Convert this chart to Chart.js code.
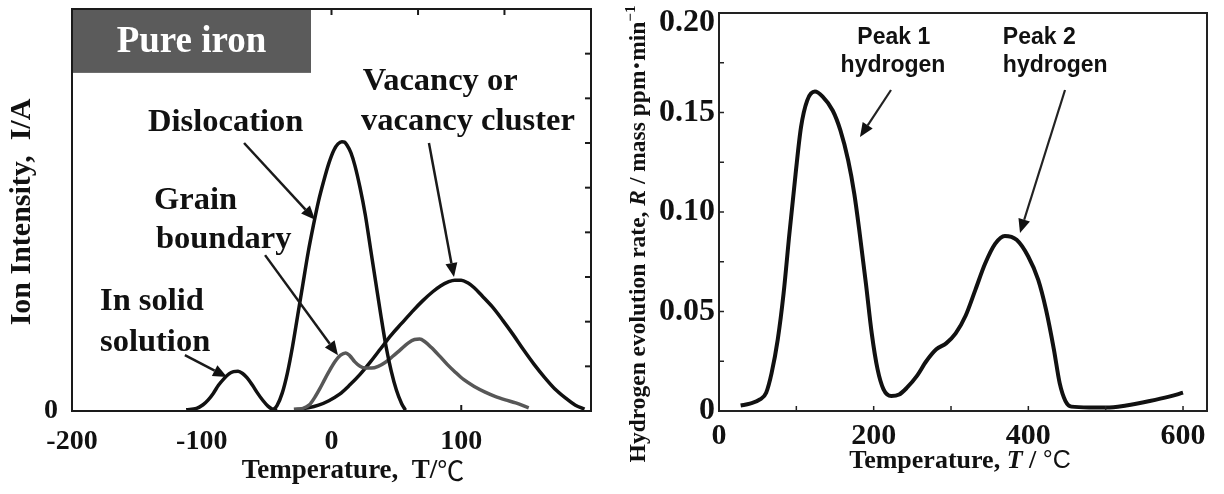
<!DOCTYPE html>
<html>
<head>
<meta charset="utf-8">
<script src="https://cdn.jsdelivr.net/npm/chart.js@4.4.0/dist/chart.umd.min.js"></script>
<style>
  html, body { margin: 0; padding: 0; background: #fff; }
  #wrap { position: relative; width: 1224px; height: 494px; overflow: hidden; }
  #leftBox { position: absolute; left: 0; top: 0; width: 610px; height: 494px; }
  #rightBox { position: absolute; left: 610px; top: 0; width: 614px; height: 494px; }
</style>
</head>
<body>
<div id="wrap">
  <div id="leftBox"><canvas id="ionChart" width="610" height="494"></canvas></div>
  <div id="rightBox"><canvas id="tdsChart" width="614" height="494"></canvas></div>
</div>
<script>
// =============================================
// Left: ion intensity of the trap sites, pure iron
// =============================================
const ionXTicks = [-200, -100, 0, 100];
const ionYTicks = [0];
const ionSideTicks = [1, 2, 3, 4, 5, 6, 7, 8];
const ionTopTicks = [-133.3, -66.7, 0, 66.7, 133.3];
const ionBottomTicks = [100];

const solidT = [-112, -104, -99, -95, -91, -87, -83, -79, -75.5, -72, -68.5, -65, -61, -57, -53, -49, -45.5, -42];
const solidI = [0.03, 0.06, 0.14, 0.25, 0.40, 0.58, 0.72, 0.83, 0.88, 0.89, 0.84, 0.74, 0.58, 0.40, 0.24, 0.11, 0.04, 0.01];

const disloT = [-46, -42, -38, -34, -30, -26, -22, -18, -14, -10, -6, -2, 2, 5, 8, 10, 12, 15, 18, 22, 26, 30, 34, 38, 42, 46, 50, 54, 57];
const disloI = [0.0, 0.12, 0.4, 0.85, 1.45, 2.15, 2.85, 3.55, 4.15, 4.7, 5.15, 5.55, 5.85, 5.98, 6.03, 6.02, 5.95, 5.78, 5.5, 5.0, 4.4, 3.65, 2.9, 2.15, 1.45, 0.9, 0.47, 0.17, 0.02];

const grainT = [-29, -22, -17, -13, -9, -5, -1, 3, 7, 11, 14, 18, 22, 26, 31, 36, 41, 47, 53, 59, 64, 68, 72, 77, 83, 89, 95, 102, 110, 118, 126, 134, 142, 152];
const grainI = [0.04, 0.06, 0.14, 0.3, 0.5, 0.72, 0.93, 1.12, 1.25, 1.3, 1.24, 1.1, 1.0, 0.96, 0.96, 1.0, 1.08, 1.22, 1.37, 1.52, 1.6, 1.61, 1.55, 1.42, 1.24, 1.05, 0.88, 0.7, 0.55, 0.43, 0.33, 0.25, 0.18, 0.07];

const vacT = [-27, -18, -10, -2, 6, 14, 22, 30, 38, 46, 54, 62, 70, 78, 84, 90, 95, 100, 105, 110, 116, 124, 132, 140, 148, 156, 164, 172, 180, 188, 195];
const vacI = [0.03, 0.07, 0.13, 0.23, 0.37, 0.58, 0.82, 1.1, 1.4, 1.7, 1.96, 2.22, 2.46, 2.67, 2.8, 2.89, 2.93, 2.93, 2.87, 2.76, 2.58, 2.33, 2.03, 1.71, 1.37, 1.05, 0.76, 0.5, 0.3, 0.13, 0.04];

// =============================================
// Right: hydrogen evolution rate
// =============================================
const tdsXTicks = [0, 200, 400, 600];
const tdsYTicks = [0, 0.05, 0.10, 0.15, 0.20];
const tdsYLabels = ['0', '0.05', '0.10', '0.15', '0.20'];
const tdsMinorY = [0.025, 0.05, 0.075, 0.1, 0.125, 0.15, 0.175];
const tdsMinorX = [100, 200, 300, 400, 500, 600];

const tdsT = [28, 40, 53, 61, 68, 76, 83.5, 91, 99, 106, 114, 124, 134, 147, 157, 167, 175, 182, 190, 197.5, 205, 212.6, 222.8, 233, 243, 255.7, 268, 281, 293.7, 306, 319, 331.6, 344, 357, 369.6, 384.8, 400, 412.7, 422.8, 433, 440.5, 448, 455.7, 481, 501, 526.6, 557, 582, 600];
const tdsR = [0.0028, 0.0037, 0.0058, 0.0092, 0.019, 0.036, 0.059, 0.089, 0.119, 0.1425, 0.156, 0.1605, 0.158, 0.151, 0.141, 0.126, 0.109, 0.089, 0.064, 0.039, 0.021, 0.011, 0.0075, 0.0083, 0.0117, 0.0175, 0.025, 0.031, 0.034, 0.039, 0.048, 0.061, 0.074, 0.084, 0.088, 0.086, 0.0775, 0.066, 0.051, 0.031, 0.014, 0.005, 0.0022, 0.0018, 0.0017, 0.0028, 0.005, 0.0072, 0.0092];

const SERIF = '"Liberation Serif", "Times New Roman", "DejaVu Serif", serif';
const SANS = '"Liberation Sans", Arial, "DejaVu Sans", sans-serif';

function pts(xs, ys) {
    return xs.map((v, i) => ({ x: v, y: ys[i] }));
}

// keep the chart area where we put it: no extra room for edge labels
function noEdgePad(s) {
    s.paddingTop = 0; s.paddingBottom = 0; s.paddingLeft = 0; s.paddingRight = 0;
}

function drawArrow(ctx, x1, y1, x2, y2) {
    const ang = Math.atan2(y2 - y1, x2 - x1);
    const hl = 14, hw = 6;
    const bx = x2 - hl * Math.cos(ang), by = y2 - hl * Math.sin(ang);
    ctx.beginPath();
    ctx.moveTo(x1, y1);
    ctx.lineTo(bx, by);
    ctx.stroke();
    ctx.beginPath();
    ctx.moveTo(x2, y2);
    ctx.lineTo(bx + hw * Math.sin(ang), by - hw * Math.cos(ang));
    ctx.lineTo(bx - hw * Math.sin(ang), by + hw * Math.cos(ang));
    ctx.closePath();
    ctx.fill();
}

// draw runs of text with different fonts, centred on (cx, cy)
function drawRuns(ctx, runs, cx, cy, rotate) {
    ctx.save();
    ctx.translate(cx, cy);
    if (rotate) ctx.rotate(-Math.PI / 2);
    let total = 0;
    runs.forEach(r => { ctx.font = r.f; total += ctx.measureText(r.t).width; });
    let x = -total / 2;
    ctx.textBaseline = 'middle';
    ctx.textAlign = 'left';
    runs.forEach(r => {
        ctx.font = r.f;
        ctx.fillText(r.t, x, r.dy || 0);
        x += ctx.measureText(r.t).width;
    });
    ctx.restore();
}

// annotation positions, in data units
const ionNotes = [
    ['Vacancy or', 24, 7.37],
    ['vacancy cluster', 22.7, 6.47],
    ['Dislocation', -141.4, 6.45],
    ['Grain', -136.8, 4.72],
    ['boundary', -135.3, 3.83],
    ['In solid', -178.4, 2.44],
    ['solution', -178.4, 1.54]
];
const ionArrows = [
    [-67.4, 6.0, -12.7, 4.28],
    [75.1, 6.0, 94.4, 3.0],
    [-51.2, 3.49, 5.0, 1.25],
    [-113, 1.25, -80.5, 0.76]
];

const ionDecor = {
    id: 'ionDecor',
    afterDraw(chart) {
        const { ctx, chartArea: a, scales: { x, y } } = chart;
        ctx.save();
        ctx.strokeStyle = '#1a1a1a';
        ctx.fillStyle = '#111';
        ctx.lineWidth = 2;
        ionSideTicks.forEach(v => {
            const py = y.getPixelForValue(v);
            ctx.beginPath(); ctx.moveTo(a.right, py); ctx.lineTo(a.right - 6, py); ctx.stroke();
        });
        ionTopTicks.forEach(v => {
            const px = x.getPixelForValue(v);
            ctx.beginPath(); ctx.moveTo(px, a.top); ctx.lineTo(px, a.top + 6); ctx.stroke();
        });
        ionBottomTicks.forEach(v => {
            const px = x.getPixelForValue(v);
            ctx.beginPath(); ctx.moveTo(px, a.bottom); ctx.lineTo(px, a.bottom - 6); ctx.stroke();
        });

        // "Pure iron" box
        const bx2 = x.getPixelForValue(-15.8), by2 = y.getPixelForValue(7.57);
        ctx.fillStyle = '#5b5b5b';
        ctx.fillRect(a.left, a.top, bx2 - a.left, by2 - a.top);
        ctx.fillStyle = '#fff';
        ctx.font = 'bold 37px ' + SERIF;
        ctx.textAlign = 'center';
        ctx.textBaseline = 'middle';
        ctx.fillText('Pure iron', (a.left + bx2) / 2, (a.top + by2) / 2 + 2);

        ctx.strokeRect(a.left, a.top, a.width, a.height);

        // labels and arrows
        ctx.fillStyle = '#111';
        ctx.font = 'bold 32.5px ' + SERIF;
        ctx.textAlign = 'left';
        ionNotes.forEach(n => ctx.fillText(n[0], x.getPixelForValue(n[1]), y.getPixelForValue(n[2])));
        ctx.lineWidth = 2.5;
        ionArrows.forEach(r => drawArrow(ctx, x.getPixelForValue(r[0]), y.getPixelForValue(r[1]),
                                         x.getPixelForValue(r[2]), y.getPixelForValue(r[3])));

        // axis titles
        drawRuns(ctx, [{ t: 'Ion Intensity,  I/A', f: 'bold 30px ' + SERIF }], 22, 212, true);
        drawRuns(ctx, [{ t: 'Temperature,  T/', f: 'bold 27px ' + SERIF },
                       { t: '℃', f: '27px "Noto Sans CJK JP", ' + SANS }], 353, 471, false);
        ctx.restore();
    }
};

new Chart(document.getElementById('ionChart'), {
    type: 'line',
    data: {
        datasets: [
            { data: pts(solidT, solidI), borderColor: '#111', borderWidth: 3.5 },
            { data: pts(disloT, disloI), borderColor: '#111', borderWidth: 3.5 },
            { data: pts(grainT, grainI), borderColor: '#575757', borderWidth: 3.5 },
            { data: pts(vacT, vacI), borderColor: '#111', borderWidth: 3.5 }
        ]
    },
    options: {
        responsive: false,
        animation: false,
        elements: { point: { radius: 0 }, line: { cubicInterpolationMode: 'monotone', fill: false } },
        layout: { padding: { top: 9, right: 19, left: 0, bottom: 0 } },
        scales: {
            x: {
                type: 'linear', min: -200, max: 200,
                grid: { display: false, drawTicks: false }, border: { display: false },
                afterBuildTicks: s => { s.ticks = ionXTicks.map(v => ({ value: v })); },
                afterFit: s => { s.height = 83; noEdgePad(s); },
                ticks: { padding: 14, color: '#111', font: { family: SERIF, size: 28, weight: 'bold' } }
            },
            y: {
                min: 0, max: 9,
                grid: { display: false, drawTicks: false }, border: { display: false },
                afterBuildTicks: s => { s.ticks = ionYTicks.map(v => ({ value: v })); },
                afterFit: s => { s.width = 72; noEdgePad(s); },
                ticks: { padding: 14, color: '#111', font: { family: SERIF, size: 28, weight: 'bold' } }
            }
        },
        plugins: { legend: { display: false }, tooltip: { enabled: false } }
    },
    plugins: [ionDecor]
});

// ---------- right panel ----------
const tdsNotes = [
    ['Peak 1', 226, 0.1874, 'center'],
    ['hydrogen', 225, 0.1734, 'center'],
    ['Peak 2', 367, 0.1874, 'left'],
    ['hydrogen', 367, 0.1734, 'left']
];
const tdsArrows = [
    [222.4, 0.1613, 182.3, 0.1377],
    [447.4, 0.1613, 389.2, 0.0894]
];
const TDS_TICK_FONT = 'bold 32px ' + SERIF;

const tdsDecor = {
    id: 'tdsDecor',
    afterDraw(chart) {
        const { ctx, chartArea: a, scales: { x, y } } = chart;
        ctx.save();
        ctx.strokeStyle = '#222';
        ctx.fillStyle = '#111';
        ctx.lineWidth = 1.5;
        tdsMinorY.forEach(v => {
            const py = y.getPixelForValue(v);
            ctx.beginPath(); ctx.moveTo(a.left, py); ctx.lineTo(a.left + 5, py); ctx.stroke();
        });
        tdsMinorX.forEach(v => {
            const px = x.getPixelForValue(v);
            ctx.beginPath(); ctx.moveTo(px, a.bottom); ctx.lineTo(px, a.bottom - 5); ctx.stroke();
        });
        ctx.lineWidth = 2;
        ctx.strokeRect(a.left, a.top, a.width, a.height);

        // top y label sits a little below its tick, as in the original
        const top = tdsYTicks.length - 1;
        ctx.font = TDS_TICK_FONT;
        ctx.textAlign = 'right';
        ctx.textBaseline = 'middle';
        ctx.fillText(tdsYLabels[top], a.left - 4, y.getPixelForValue(tdsYTicks[top]) + 10);

        ctx.font = 'bold 23px ' + SANS;
        tdsNotes.forEach(n => {
            ctx.textAlign = n[3];
            ctx.fillText(n[0], x.getPixelForValue(n[1]), y.getPixelForValue(n[2]));
        });
        ctx.lineWidth = 2.2;
        tdsArrows.forEach(r => drawArrow(ctx, x.getPixelForValue(r[0]), y.getPixelForValue(r[1]),
                                         x.getPixelForValue(r[2]), y.getPixelForValue(r[3])));

        const bf = 'bold 23.5px ' + SERIF;
        drawRuns(ctx, [
            { t: 'Hydrogen evolution rate, ', f: bf },
            { t: 'R', f: 'italic bold 23.5px ' + SERIF },
            { t: ' / mass ppm', f: bf },
            { t: '·', f: 'bold 29px ' + SERIF },
            { t: 'min', f: bf },
            { t: '−1', f: 'bold 15px ' + SERIF, dy: -8 }
        ], 29, 234, true);
        drawRuns(ctx, [
            { t: 'Temperature, ', f: 'bold 26px ' + SERIF },
            { t: 'T', f: 'italic bold 26px ' + SERIF },
            { t: ' / ', f: 'bold 26px ' + SERIF },
            { t: '°C', f: '25px ' + SANS }
        ], 350, 461, false);
        ctx.restore();
    }
};

new Chart(document.getElementById('tdsChart'), {
    type: 'line',
    data: {
        datasets: [
            { data: pts(tdsT, tdsR), borderColor: '#111', borderWidth: 4 }
        ]
    },
    options: {
        responsive: false,
        animation: false,
        elements: { point: { radius: 0 }, line: { cubicInterpolationMode: 'monotone', fill: false } },
        layout: { padding: { top: 13, right: 17, left: 0, bottom: 0 } },
        scales: {
            x: {
                type: 'linear', min: 0, max: 631,
                grid: { display: false, drawTicks: false }, border: { display: false },
                afterBuildTicks: s => { s.ticks = tdsXTicks.map(v => ({ value: v })); },
                afterFit: s => { s.height = 83; noEdgePad(s); },
                ticks: { padding: 7, color: '#111', font: { family: SERIF, size: 30, weight: 'bold' } }
            },
            y: {
                min: 0, max: 0.2,
                grid: { display: false, drawTicks: false }, border: { display: false },
                afterBuildTicks: s => { s.ticks = tdsYTicks.map(v => ({ value: v })); },
                afterFit: s => { s.width = 109; noEdgePad(s); },
                ticks: {
                    padding: 4, color: '#111', font: { family: SERIF, size: 32, weight: 'bold' },
                    // the top label is drawn by tdsDecor
                    callback: (v, i) => (i === tdsYTicks.length - 1 ? '' : tdsYLabels[i])
                }
            }
        },
        plugins: { legend: { display: false }, tooltip: { enabled: false } }
    },
    plugins: [tdsDecor]
});
</script>
</body>
</html>
